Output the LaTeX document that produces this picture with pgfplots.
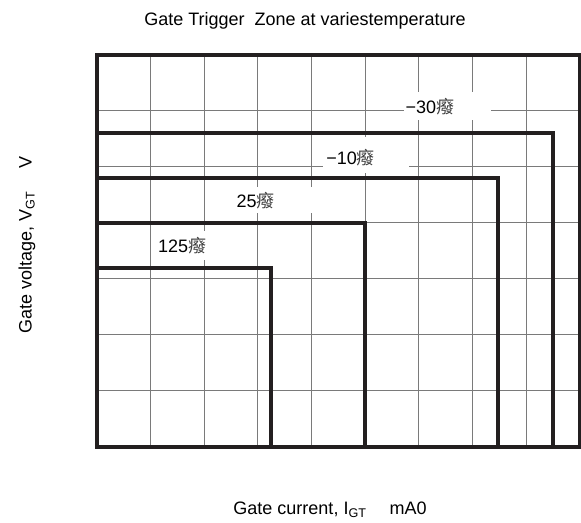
\documentclass[border=0pt]{standalone}
\usepackage{pgfplots}
\pgfplotsset{compat=1.18}
\usepackage{fontspec}
\setmainfont{Liberation Sans}
\newfontfamily\cjk{Noto Sans CJK SC}
\definecolor{thk}{HTML}{231F20}
\definecolor{grd}{HTML}{7A7A7A}
\newcommand{\degc}{{\cjk\color{black!75}癈}}
\begin{document}
\fontsize{18bp}{22bp}\selectfont
\begin{tikzpicture}[x=1bp,y=1bp]
\useasboundingbox (0,0) rectangle (581,523);
\begin{axis}[
  at={(96.7bp,76.3bp)}, anchor=south west, scale only axis,
  width=483bp, height=391.7bp,
  xmin=0, xmax=9, ymin=0, ymax=7,
  xtick={0,...,9}, ytick={0,...,7},
  xticklabels={}, yticklabels={},
  major tick length=0pt,
  grid=major, grid style={grd, line width=0.9bp},
  axis line style={thk, line width=4bp},
  clip=false,
]
% white label boxes
\fill[white] (axis cs:5.73,5.84) rectangle (axis cs:7.35,6.34);
\fill[white] (axis cs:4.22,4.89) rectangle (axis cs:5.82,5.54);
\fill[white] (axis cs:2.53,4.17) rectangle (axis cs:4.15,4.64);
\fill[white] (axis cs:1.05,3.34) rectangle (axis cs:2.66,3.85);
% zone boundaries
\addplot[thk, line width=4bp, line join=miter] coordinates {(0,5.60) (8.50,5.60) (8.50,0)};
\addplot[thk, line width=4bp, line join=miter] coordinates {(0,4.80) (7.48,4.80) (7.48,0)};
\addplot[thk, line width=4bp, line join=miter] coordinates {(0,4.00) (5.00,4.00) (5.00,0)};
\addplot[thk, line width=4bp, line join=miter] coordinates {(0,3.19) (3.24,3.19) (3.24,0)};
% labels
\node[inner sep=0pt] at (axis cs:6.21,6.07) {−30\degc};
\node[inner sep=0pt] at (axis cs:4.73,5.16) {−10\degc};
\node[inner sep=0pt] at (axis cs:2.96,4.39) {25\degc};
\node[inner sep=0pt] at (axis cs:1.59,3.60) {125\degc};
\end{axis}
\node at (305,502) {Gate Trigger\ \ Zone at variestemperature};
\node[rotate=90] at (27,278) {Gate voltage, V\textsubscript{GT}\quad\ V};
\node at (330,13) {Gate current, I\textsubscript{GT}\quad\ mA0};
\end{tikzpicture}
\end{document}
